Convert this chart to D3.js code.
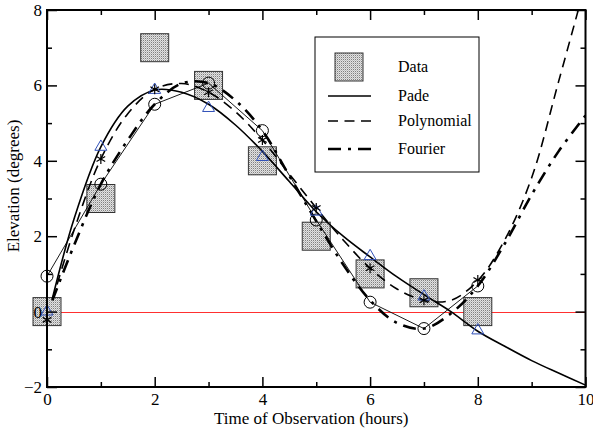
<!DOCTYPE html>
<html>
<head>
<meta charset="utf-8">
<script src="https://cdn.jsdelivr.net/npm/d3@7/dist/d3.min.js"></script>
<style>
  body { margin: 0; background: #fff; }
  svg text { font-family: "Liberation Serif", "Times New Roman", Times, "DejaVu Serif", serif; fill: #000; }
</style>
</head>
<body>
<svg width="593" height="428"></svg>
<script>
// observations, one per hour
var hours = [0, 1, 2, 3, 4, 5, 6, 7, 8];
var dataElev = [0, 3, 7, 6, 4, 2, 1, 0.5, 0];
// model values at the observation hours (markers)
var padeAtHours = [0, 4.37, 5.88, 5.4, 4.1, 2.65, 1.47, 0.4, -0.5];
var polyAtHours = [-0.22, 4.05, 5.9, 5.82, 4.55, 2.75, 1.15, 0.3, 0.84];
var fourierAtHours = [0.94, 3.38, 5.5, 6.06, 4.8, 2.43, 0.25, -0.45, 0.68];

var curveT = [0.1, 0.5, 1, 1.5, 2, 2.5, 3, 3.5, 4, 4.5, 5, 5.5, 6, 6.5, 7, 7.5, 8, 8.5, 9, 9.5, 10];
var padeCurve = [0.35, 2.45, 4.37, 5.45, 5.88, 5.82, 5.5, 4.95, 4.25, 3.45, 2.65, 2.0, 1.45, 0.92, 0.45, 0.0, -0.52, -0.92, -1.3, -1.63, -1.95];
var polyCurve = [0.3, 2.15, 4.05, 5.25, 5.9, 6.05, 5.82, 5.3, 4.55, 3.65, 2.75, 1.9, 1.15, 0.6, 0.3, 0.3, 0.82, 1.9, 3.55, 6.1, 8.7];
var fourierCurve = [0.3, 1.75, 3.38, 4.55, 5.5, 6.05, 6.06, 5.6, 4.8, 3.6, 2.4, 1.25, 0.3, -0.3, -0.45, -0.05, 0.68, 1.8, 3.1, 4.25, 5.2];

var xTicks = [0, 2, 4, 6, 8, 10];
var yTicks = [-2, 0, 2, 4, 6, 8];
var legendNames = ["Data", "Pade", "Polynomial", "Fourier"];

var serif = "Liberation Serif, Times New Roman, Times, DejaVu Serif, serif";

var svg = d3.select("svg"),
    margin = {top: 10, right: 7.5, bottom: 41, left: 47},
    width = +svg.attr("width") - margin.left - margin.right,
    height = +svg.attr("height") - margin.top - margin.bottom,
    g = svg.append("g").attr("transform", "translate(" + margin.left + "," + margin.top + ")");

var x = d3.scaleLinear().domain([0, 10]).range([0, width]);
var y = d3.scaleLinear().domain([-2, 8]).range([height, 0]);

// stipple fill for the data squares
var defs = svg.append("defs");
var pat = defs.append("pattern").attr("id", "stip")
    .attr("width", 2).attr("height", 2).attr("patternUnits", "userSpaceOnUse");
pat.append("rect").attr("width", 2).attr("height", 2).attr("fill", "#e2e2e2");
pat.append("rect").attr("width", 1).attr("height", 1).attr("fill", "#808080");
pat.append("rect").attr("x", 1).attr("y", 1).attr("width", 1).attr("height", 1).attr("fill", "#bdbdbd");

defs.append("clipPath").attr("id", "clip")
    .append("rect").attr("width", width).attr("height", height);

// zero line
g.append("line")
    .attr("x1", x(0)).attr("x2", x(10))
    .attr("y1", Math.round(y(0)) + 0.5).attr("y2", Math.round(y(0)) + 0.5)
    .attr("stroke", "#ff3030").attr("stroke-width", 1)
    .attr("shape-rendering", "crispEdges");

// data squares
var sq = 28;
g.selectAll(".sq")
    .data(hours)
    .enter().append("rect")
    .attr("class", "sq")
    .attr("x", function (d) { return x(d) - sq / 2; })
    .attr("y", function (d, i) { return y(dataElev[i]) - sq / 2; })
    .attr("width", sq).attr("height", sq)
    .attr("fill", "url(#stip)")
    .attr("stroke", "#333").attr("stroke-width", 1);

// curves
var line = d3.line()
    .x(function (d) { return x(d[0]); })
    .y(function (d) { return y(d[1]); })
    .curve(d3.curveCatmullRom.alpha(0.5));

var curves = g.append("g").attr("clip-path", "url(#clip)");

function addCurve(vals, dash, w) {
    curves.append("path")
        .datum(curveT.map(function (t, i) { return [t, vals[i]]; }))
        .attr("d", line)
        .attr("fill", "none")
        .attr("stroke", "#000")
        .attr("stroke-width", w)
        .attr("stroke-dasharray", dash);
}
addCurve(padeCurve, null, 1.6);
addCurve(polyCurve, "10,6.5", 1.6);
addCurve(fourierCurve, "13,7,3,7", 2.6);

// thin line through the fourier markers
g.append("path")
    .datum(hours.map(function (h, i) { return [h, fourierAtHours[i]]; }))
    .attr("d", d3.line().x(function (d) { return x(d[0]); }).y(function (d) { return y(d[1]); }))
    .attr("fill", "none").attr("stroke", "#000").attr("stroke-width", 0.9);

// markers
g.selectAll(".circ")
    .data(hours)
    .enter().append("circle")
    .attr("cx", function (d) { return x(d); })
    .attr("cy", function (d, i) { return y(fourierAtHours[i]); })
    .attr("r", 6)
    .attr("fill", "none").attr("stroke", "#000").attr("stroke-width", 1);

g.selectAll(".tri")
    .data(hours)
    .enter().append("path")
    .attr("transform", function (d, i) { return "translate(" + x(d) + "," + y(padeAtHours[i]) + ")"; })
    .attr("d", d3.symbol().type(d3.symbolTriangle).size(62))
    .attr("fill", "none").attr("stroke", "#3050b8").attr("stroke-width", 1);

g.selectAll(".ast")
    .data(hours)
    .enter().append("path")
    .attr("transform", function (d, i) { return "translate(" + x(d) + "," + y(polyAtHours[i]) + ")"; })
    .attr("d", d3.symbol().type(d3.symbolAsterisk).size(70))
    .attr("fill", "none").attr("stroke", "#000").attr("stroke-width", 1.2);

// axes, ticks on all four sides pointing inward
function tickSet(axis, vals, size) {
    return axis.tickValues(vals).tickSize(size).tickFormat("");
}
var minorX = [1, 3, 5, 7, 9], minorY = [-1, 1, 3, 5, 7];

g.append("g").attr("transform", "translate(0," + height + ")")
    .call(d3.axisBottom(x).tickValues(xTicks).tickSize(-10).tickPadding(6).tickFormat(d3.format("d")));
g.append("g").attr("transform", "translate(0," + height + ")").call(tickSet(d3.axisBottom(x), minorX, -5));
g.append("g").call(tickSet(d3.axisTop(x), xTicks, -10));
g.append("g").call(tickSet(d3.axisTop(x), minorX, -5));

g.append("g")
    .call(d3.axisLeft(y).tickValues(yTicks).tickSize(-10).tickPadding(5).tickFormat(d3.format("d")));
g.append("g").call(tickSet(d3.axisLeft(y), minorY, -5));
g.append("g").attr("transform", "translate(" + width + ",0)").call(tickSet(d3.axisRight(y), yTicks, -10));
g.append("g").attr("transform", "translate(" + width + ",0)").call(tickSet(d3.axisRight(y), minorY, -5));

g.selectAll(".domain").remove();
g.selectAll(".tick line").attr("stroke", "#000").attr("stroke-width", 1.5);
g.selectAll(".tick text")
    .attr("font-family", serif).attr("font-size", 17).attr("fill", "#000");

g.append("rect").attr("width", width).attr("height", height)
    .attr("fill", "none").attr("stroke", "#000").attr("stroke-width", 2);

// axis titles
svg.append("text")
    .attr("x", margin.left + width / 2 - 5).attr("y", 424)
    .attr("text-anchor", "middle")
    .attr("font-family", serif).attr("font-size", 17)
    .text("Time of Observation (hours)");
svg.append("text")
    .attr("transform", "translate(19,186) rotate(-90)")
    .attr("text-anchor", "middle")
    .attr("font-family", serif).attr("font-size", 17)
    .text("Elevation (degrees)");

// legend
var lg = svg.append("g").attr("transform", "translate(315,37)");
lg.append("rect").attr("width", 164).attr("height", 135)
    .attr("fill", "#fff").attr("stroke", "#000").attr("stroke-width", 1);
var rowY = [30, 59, 84, 112];
lg.append("rect").attr("x", 20).attr("y", rowY[0] - 14).attr("width", 28).attr("height", 28)
    .attr("fill", "url(#stip)").attr("stroke", "#333");
var legendDash = [null, null, "10,6.5", "13,7,3,7"];
var legendW = [0, 1.6, 1.6, 2.6];
for (var i = 1; i < 4; i++) {
    lg.append("line").attr("x1", 13).attr("x2", 56)
        .attr("y1", rowY[i]).attr("y2", rowY[i])
        .attr("stroke", "#000").attr("stroke-width", legendW[i])
        .attr("stroke-dasharray", legendDash[i]);
}
lg.selectAll(".lt")
    .data(legendNames)
    .enter().append("text")
    .attr("x", 83).attr("y", function (d, i) { return rowY[i] + 5; })
    .attr("font-family", serif).attr("font-size", 16)
    .text(function (d) { return d; });
</script>
</body>
</html>
